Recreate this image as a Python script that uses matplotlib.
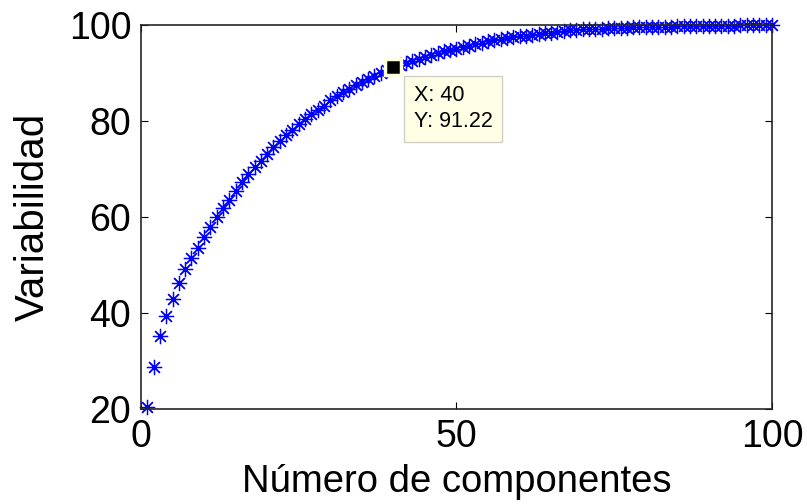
import matplotlib.pyplot as plt
import numpy as np

plt.rcParams['font.family'] = ['Liberation Sans', 'DejaVu Sans']

componentes = list(range(1, 101))
variabilidad = [
    20.35, 28.8, 35.3, 39.4, 42.9, 46.2, 49.1, 51.5, 53.6, 55.9,
    57.9, 59.9, 61.9, 63.6, 65.5, 67.2, 68.9, 70.4, 71.7, 73.1,
    74.6, 75.9, 77.0, 78.2, 79.4, 80.4, 81.4, 82.3, 83.2, 84.3,
    85.2, 86.0, 86.7, 87.4, 88.1, 88.8, 89.4, 89.9, 90.6, 91.22,
    91.7, 92.1, 92.6, 93.0, 93.4, 93.8, 94.1, 94.5, 94.8, 95.1,
    95.4, 95.7, 96.0, 96.3, 96.6, 96.9, 97.1, 97.3, 97.5, 97.7,
    97.8, 98.0, 98.1, 98.3, 98.4, 98.6, 98.7, 98.9, 99.0, 99.1,
    99.15, 99.2, 99.25, 99.3, 99.35, 99.4, 99.45, 99.5, 99.55, 99.6,
    99.62, 99.64, 99.66, 99.68, 99.7, 99.72, 99.74, 99.76, 99.78, 99.8,
    99.82, 99.84, 99.86, 99.88, 99.9, 99.92, 99.94, 99.96, 99.98, 100.0,
]
tip_x = 40
tip_y = variabilidad[tip_x - 1]

fig = plt.figure(figsize=(8.07, 5.04), dpi=100)
ax = fig.add_axes([0.1747, 0.1885, 0.7819, 0.7619])

ax.plot(componentes, variabilidad, linestyle='none', marker=(8, 2, 0),
        markersize=11, markeredgewidth=0.9, color='#0000ff', clip_on=False)

# data tip
ax.plot([tip_x], [tip_y], marker='s', markersize=11, color='black',
        markeredgecolor='#ffffe0', markeredgewidth=2.5, clip_on=False, zorder=5)
ax.annotate('X: 40\nY: 91.22', xy=(tip_x, tip_y), xytext=(14.5, -13),
            textcoords='offset points', ha='left', va='top', fontsize=15.5,
            linespacing=1.3,
            bbox=dict(boxstyle='square,pad=0.45', fc='#ffffe6', ec='#d0d0c8', lw=1),
            zorder=6)

ax.set_xlim(0, 100)
ax.set_ylim(20, 100)
ax.set_xticks([0, 50, 100])
ax.set_yticks([20, 40, 60, 80, 100])
ax.tick_params(direction='in', length=5, width=0.8, labelsize=27, pad=7,
               top=True, right=True)
for s in ax.spines.values():
    s.set_linewidth(1.2)
    s.set_color('#262626')

ax.set_xlabel('Número de componentes', fontsize=27.5, labelpad=7)
ax.set_ylabel('Variabilidad', fontsize=29, labelpad=12)

fig.savefig('out.png', dpi=100)
